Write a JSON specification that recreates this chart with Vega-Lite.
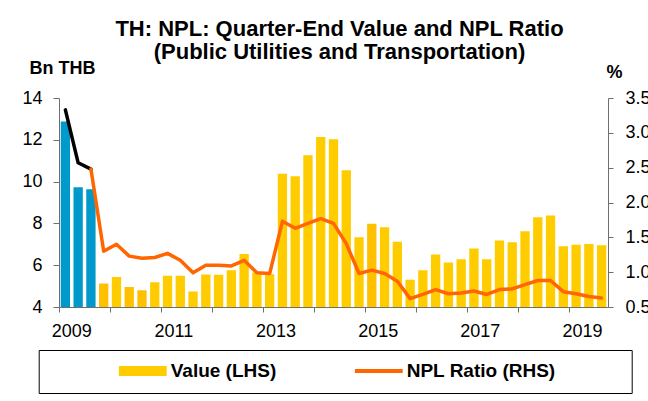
{
  "$schema": "https://vega.github.io/schema/vega-lite/v6.json",
  "width": 549,
  "height": 209,
  "autosize": {"type": "none"},
  "padding": {"left": 59, "top": 98, "right": 40, "bottom": 94},
  "background": "#ffffff",
  "title": {
    "text": ["TH: NPL: Quarter-End Value and NPL Ratio", "(Public Utilities and Transportation)"],
    "font": "Liberation Sans",
    "fontSize": 22,
    "fontWeight": "bold",
    "color": "#000000",
    "anchor": "middle",
    "frame": "group",
    "dx": 6,
    "dy": 43,
    "baseline": "alphabetic",
    "offset": 21,
    "lineHeight": 23
  },
  "datasets": {
    "bars": [
      {"q": "2009Q1", "value": 12.88, "s": "blue"},
      {"q": "2009Q2", "value": 9.73, "s": "blue"},
      {"q": "2009Q3", "value": 9.63, "s": "blue"},
      {"q": "2009Q4", "value": 5.12, "s": "dark"},
      {"q": "2010Q1", "value": 5.44, "s": "Value (LHS)"},
      {"q": "2010Q2", "value": 4.96, "s": "dark"},
      {"q": "2010Q3", "value": 4.80, "s": "dark"},
      {"q": "2010Q4", "value": 5.18, "s": "Value (LHS)"},
      {"q": "2011Q1", "value": 5.49, "s": "Value (LHS)"},
      {"q": "2011Q2", "value": 5.49, "s": "Value (LHS)"},
      {"q": "2011Q3", "value": 4.74, "s": "Value (LHS)"},
      {"q": "2011Q4", "value": 5.55, "s": "Value (LHS)"},
      {"q": "2012Q1", "value": 5.54, "s": "Value (LHS)"},
      {"q": "2012Q2", "value": 5.76, "s": "Value (LHS)"},
      {"q": "2012Q3", "value": 6.53, "s": "Value (LHS)"},
      {"q": "2012Q4", "value": 5.65, "s": "Value (LHS)"},
      {"q": "2013Q1", "value": 5.57, "s": "Value (LHS)"},
      {"q": "2013Q2", "value": 10.38, "s": "Value (LHS)"},
      {"q": "2013Q3", "value": 10.26, "s": "Value (LHS)"},
      {"q": "2013Q4", "value": 11.26, "s": "Value (LHS)"},
      {"q": "2014Q1", "value": 12.13, "s": "Value (LHS)"},
      {"q": "2014Q2", "value": 12.03, "s": "Value (LHS)"},
      {"q": "2014Q3", "value": 10.54, "s": "Value (LHS)"},
      {"q": "2014Q4", "value": 7.34, "s": "Value (LHS)"},
      {"q": "2015Q1", "value": 7.98, "s": "dark"},
      {"q": "2015Q2", "value": 7.82, "s": "Value (LHS)"},
      {"q": "2015Q3", "value": 7.12, "s": "Value (LHS)"},
      {"q": "2015Q4", "value": 5.30, "s": "Value (LHS)"},
      {"q": "2016Q1", "value": 5.76, "s": "Value (LHS)"},
      {"q": "2016Q2", "value": 6.51, "s": "Value (LHS)"},
      {"q": "2016Q3", "value": 6.13, "s": "Value (LHS)"},
      {"q": "2016Q4", "value": 6.29, "s": "Value (LHS)"},
      {"q": "2017Q1", "value": 6.80, "s": "Value (LHS)"},
      {"q": "2017Q2", "value": 6.29, "s": "Value (LHS)"},
      {"q": "2017Q3", "value": 7.18, "s": "Value (LHS)"},
      {"q": "2017Q4", "value": 7.10, "s": "Value (LHS)"},
      {"q": "2018Q1", "value": 7.62, "s": "Value (LHS)"},
      {"q": "2018Q2", "value": 8.30, "s": "Value (LHS)"},
      {"q": "2018Q3", "value": 8.38, "s": "Value (LHS)"},
      {"q": "2018Q4", "value": 6.91, "s": "Value (LHS)"},
      {"q": "2019Q1", "value": 6.98, "s": "Value (LHS)"},
      {"q": "2019Q2", "value": 7.01, "s": "Value (LHS)"},
      {"q": "2019Q3", "value": 6.96, "s": "Value (LHS)"}
    ],
    "line": [
      {"q": "2009Q1", "ratio": 3.33, "s": "black"},
      {"q": "2009Q2", "ratio": 2.57, "s": "black"},
      {"q": "2009Q3", "ratio": 2.48, "s": "black"},
      {"q": "2009Q3", "ratio": 2.48, "s": "NPL Ratio (RHS)"},
      {"q": "2009Q4", "ratio": 1.30, "s": "NPL Ratio (RHS)"},
      {"q": "2010Q1", "ratio": 1.40, "s": "NPL Ratio (RHS)"},
      {"q": "2010Q2", "ratio": 1.23, "s": "NPL Ratio (RHS)"},
      {"q": "2010Q3", "ratio": 1.20, "s": "NPL Ratio (RHS)"},
      {"q": "2010Q4", "ratio": 1.21, "s": "NPL Ratio (RHS)"},
      {"q": "2011Q1", "ratio": 1.27, "s": "NPL Ratio (RHS)"},
      {"q": "2011Q2", "ratio": 1.17, "s": "NPL Ratio (RHS)"},
      {"q": "2011Q3", "ratio": 0.99, "s": "NPL Ratio (RHS)"},
      {"q": "2011Q4", "ratio": 1.10, "s": "NPL Ratio (RHS)"},
      {"q": "2012Q1", "ratio": 1.10, "s": "NPL Ratio (RHS)"},
      {"q": "2012Q2", "ratio": 1.09, "s": "NPL Ratio (RHS)"},
      {"q": "2012Q3", "ratio": 1.17, "s": "NPL Ratio (RHS)"},
      {"q": "2012Q4", "ratio": 0.99, "s": "NPL Ratio (RHS)"},
      {"q": "2013Q1", "ratio": 0.98, "s": "NPL Ratio (RHS)"},
      {"q": "2013Q2", "ratio": 1.73, "s": "NPL Ratio (RHS)"},
      {"q": "2013Q3", "ratio": 1.63, "s": "NPL Ratio (RHS)"},
      {"q": "2013Q4", "ratio": 1.70, "s": "NPL Ratio (RHS)"},
      {"q": "2014Q1", "ratio": 1.77, "s": "NPL Ratio (RHS)"},
      {"q": "2014Q2", "ratio": 1.70, "s": "NPL Ratio (RHS)"},
      {"q": "2014Q3", "ratio": 1.41, "s": "NPL Ratio (RHS)"},
      {"q": "2014Q4", "ratio": 0.98, "s": "NPL Ratio (RHS)"},
      {"q": "2015Q1", "ratio": 1.03, "s": "NPL Ratio (RHS)"},
      {"q": "2015Q2", "ratio": 0.98, "s": "NPL Ratio (RHS)"},
      {"q": "2015Q3", "ratio": 0.87, "s": "NPL Ratio (RHS)"},
      {"q": "2015Q4", "ratio": 0.62, "s": "NPL Ratio (RHS)"},
      {"q": "2016Q1", "ratio": 0.68, "s": "NPL Ratio (RHS)"},
      {"q": "2016Q2", "ratio": 0.75, "s": "NPL Ratio (RHS)"},
      {"q": "2016Q3", "ratio": 0.69, "s": "NPL Ratio (RHS)"},
      {"q": "2016Q4", "ratio": 0.70, "s": "NPL Ratio (RHS)"},
      {"q": "2017Q1", "ratio": 0.73, "s": "NPL Ratio (RHS)"},
      {"q": "2017Q2", "ratio": 0.68, "s": "NPL Ratio (RHS)"},
      {"q": "2017Q3", "ratio": 0.75, "s": "NPL Ratio (RHS)"},
      {"q": "2017Q4", "ratio": 0.76, "s": "NPL Ratio (RHS)"},
      {"q": "2018Q1", "ratio": 0.82, "s": "NPL Ratio (RHS)"},
      {"q": "2018Q2", "ratio": 0.88, "s": "NPL Ratio (RHS)"},
      {"q": "2018Q3", "ratio": 0.88, "s": "NPL Ratio (RHS)"},
      {"q": "2018Q4", "ratio": 0.72, "s": "NPL Ratio (RHS)"},
      {"q": "2019Q1", "ratio": 0.69, "s": "NPL Ratio (RHS)"},
      {"q": "2019Q2", "ratio": 0.65, "s": "NPL Ratio (RHS)"},
      {"q": "2019Q3", "ratio": 0.63, "s": "NPL Ratio (RHS)"}
    ]
  },
  "encoding": {
    "x": {
      "field": "q",
      "type": "ordinal",
      "scale": {"paddingInner": 0, "paddingOuter": 0},
      "axis": {
        "title": null,
        "values": ["2009Q1","2010Q1","2011Q1","2012Q1","2013Q1","2014Q1","2015Q1","2016Q1","2017Q1","2018Q1","2019Q1"],
        "bandPosition": 0,
        "labelOffset": 6.4,
        "labelExpr": "toNumber(slice(datum.value, 0, 4)) % 2 == 1 ? slice(datum.value, 0, 4) : ''",
        "labelAngle": 0,
        "labelOverlap": false,
        "labelBound": false,
        "labelFlush": false,
        "tickSize": 5,
        "labelPadding": 10,
        "labelFont": "Liberation Sans",
        "labelFontSize": 18,
        "labelColor": "#000000",
        "domainColor": "#6e6e6e",
        "tickColor": "#6e6e6e"
      }
    },
    "color": {
      "field": "s",
      "type": "nominal",
      "scale": {
        "domain": ["Value (LHS)", "NPL Ratio (RHS)", "blue", "dark", "black"],
        "range": ["#FFCC00", "#FF6600", "#0099CC", "#FFC000", "#000000"]
      },
      "legend": {
        "values": ["Value (LHS)", "NPL Ratio (RHS)"],
        "orient": "none",
        "legendX": -20.3,
        "legendY": 252,
        "direction": "horizontal",
        "title": "\u200b\u00a0\u00a0\u00a0\u00a0\u00a0\u00a0\u00a0\u00a0\u00a0\u00a0\u00a0\u00a0\u00a0\u00a0\u00a0\u00a0\u00a0\u00a0\u00a0\u00a0\u00a0\u00a0\u00a0\u200b",
        "titleOrient": "left",
        "titleFontSize": 10,
        "titlePadding": 4,
        "padding": 12,
        "strokeColor": "#000000",
        "columnPadding": 78,
        "clipHeight": 18,
        "symbolType": "M-1,-0.21H1V0.21H-1Z",
        "symbolSize": 2304,
        "symbolStrokeWidth": 0,
        "labelFont": "Liberation Sans",
        "labelFontSize": 19,
        "labelFontWeight": "bold",
        "labelColor": "#000000",
        "labelLimit": 600,
        "labelOffset": 4,
        "labelExpr": "datum.label == 'NPL Ratio (RHS)' ? datum.label + '\u00a0\u00a0\u00a0\u00a0\u00a0\u00a0\u00a0\u00a0\u00a0\u00a0\u00a0\u00a0\u200b' : datum.label",
        "encode": {
          "symbols": {
            "update": {
              "shape": {"signal": "datum.value == 'Value (LHS)' ? 'M-1,-0.21H1V0.21H-1Z' : 'M-1,-0.085H1V0.085H-1Z'"},
              "fill": {"signal": "datum.value == 'Value (LHS)' ? '#FFCC00' : '#FF6600'"},
              "strokeWidth": {"value": 0},
              "opacity": {"value": 1}
            }
          }
        }
      }
    }
  },
  "layer": [
    {
      "data": {"name": "bars"},
      "mark": {"type": "bar", "width": {"band": 0.73}, "clip": true},
      "encoding": {
        "y": {
          "field": "value",
          "type": "quantitative",
          "scale": {"domain": [4, 14], "zero": false, "nice": false},
          "axis": {
            "orient": "left",
            "values": [4, 6, 8, 10, 12, 14],
            "grid": false,
            "tickSize": 6,
            "labelPadding": 11,
            "labelFont": "Liberation Sans",
            "labelFontSize": 18,
            "labelColor": "#000000",
            "domainColor": "#6e6e6e",
            "tickColor": "#6e6e6e",
            "title": "Bn THB",
            "titleAngle": 0,
            "titleAlign": "left",
            "titleBaseline": "alphabetic",
            "titleX": -30,
            "titleY": -24.7,
            "titleFont": "Liberation Sans",
            "titleFontSize": 18,
            "titleFontWeight": "bold",
            "titleColor": "#000000"
          }
        }
      }
    },
    {
      "data": {"name": "line"},
      "mark": {"type": "line", "strokeWidth": 3.5, "strokeJoin": "round", "strokeCap": "round"},
      "encoding": {
        "y": {
          "field": "ratio",
          "type": "quantitative",
          "scale": {"domain": [0.5, 3.5], "zero": false, "nice": false},
          "axis": {
            "orient": "right",
            "values": [0.5, 1, 1.5, 2, 2.5, 3, 3.5],
            "format": ".1f",
            "grid": false,
            "tickSize": 5,
            "labelPadding": 12,
            "labelFont": "Liberation Sans",
            "labelFontSize": 18,
            "labelColor": "#000000",
            "domainColor": "#6e6e6e",
            "tickColor": "#6e6e6e",
            "title": "%",
            "titleAngle": 0,
            "titleAlign": "left",
            "titleBaseline": "alphabetic",
            "titleX": -2,
            "titleY": -20.7,
            "titleFont": "Liberation Sans",
            "titleFontSize": 18,
            "titleFontWeight": "bold",
            "titleColor": "#000000"
          }
        }
      }
    }
  ],
  "resolve": {"scale": {"y": "independent"}},
  "config": {
    "view": {"stroke": null},
    "font": "Liberation Sans",
    "axis": {"grid": false}
  }
}
